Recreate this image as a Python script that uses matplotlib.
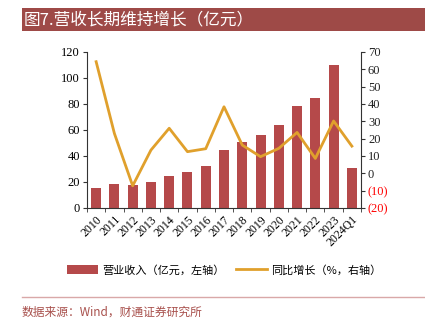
import matplotlib
matplotlib.use("Agg")
import matplotlib.pyplot as plt
from matplotlib.patches import Rectangle
from matplotlib.lines import Line2D
import numpy as np

categories = ["2010", "2011", "2012", "2013", "2014", "2015", "2016", "2017",
              "2018", "2019", "2020", "2021", "2022", "2023", "2024Q1"]
revenue = [15.4, 18.5, 17.7, 19.7, 24.9, 27.9, 32.0, 44.3, 50.5, 55.9, 63.6, 78.5, 85.0, 110.0, 30.5]
growth = [64.4, 23.0, -7.2, 13.4, 26.0, 12.5, 14.2, 38.4, 16.3, 9.6, 14.4, 23.6, 8.6, 30.2, 15.7]
left_ticks = [0, 20, 40, 60, 80, 100, 120]
right_ticks = [-20, -10, 0, 10, 20, 30, 40, 50, 60, 70]
right_labels = ["(20)", "(10)", "0", "10", "20", "30", "40", "50", "60", "70"]

title = "图7.营收长期维持增长（亿元）"
bar_label = "营业收入（亿元，左轴）"
line_label = "同比增长（%，右轴）"
source = "数据来源：Wind，财通证券研究所"

BAR = "#b5494a"
LINE = "#e0a02c"
TITLE_BG = "#9e4a47"
cjk = ["Noto Sans CJK SC", "DejaVu Sans"]
serif = ["Liberation Serif", "DejaVu Serif"]

W, H = 425, 332
fig = plt.figure(figsize=(W / 100, H / 100), dpi=100)

# title bar
fig.patches.append(Rectangle((22 / W, 1 - 31 / H), (W - 22) / W, 23 / H,
                             transform=fig.transFigure, facecolor=TITLE_BG,
                             edgecolor="none"))
fig.text(24 / W, 1 - 19.5 / H, title, color="white", fontsize=12,
         family=cjk, va="center", ha="left")

ax = fig.add_axes([87 / W, 1 - 208 / H, (361 - 87) / W, (208 - 52) / H])
x = np.arange(len(categories))
ax.bar(x, revenue, width=0.55, color=BAR, zorder=2)
ax.set_xlim(-0.5, len(categories) - 0.5)
ax.set_ylim(0, 120)
ax.set_yticks(left_ticks)
ax.set_yticklabels([str(t) for t in left_ticks], family=serif, fontsize=9)
ax.set_xticks(x)
ax.set_xticklabels(categories, rotation=45, ha="right", rotation_mode="anchor",
                   family=serif, fontsize=8.5)
ax.set_xticks(np.arange(-0.5, len(categories), 1), minor=True)
ax.tick_params(axis="x", which="major", length=0, pad=4)
ax.tick_params(axis="x", which="minor", length=3, direction="out", color="#333333")
ax.tick_params(axis="y", length=3, direction="out", color="#333333", pad=2)
for s in ["top", "right"]:
    ax.spines[s].set_visible(False)
ax.spines["left"].set_color("#333333")
ax.spines["bottom"].set_color("#333333")

ax2 = ax.twinx()
ax2.plot(x, growth, color=LINE, linewidth=2, zorder=3)
ax2.set_ylim(-20, 70)
ax2.set_yticks(right_ticks)
ax2.set_yticklabels(right_labels, family=serif, fontsize=9)
for t, v in zip(ax2.get_yticklabels(), right_ticks):
    t.set_color("red" if v < 0 else "#222222")
ax2.tick_params(axis="y", length=3, direction="out", color="#333333", pad=2)
for s in ["top", "left", "bottom"]:
    ax2.spines[s].set_visible(False)
ax2.spines["right"].set_color("#333333")

# legend
handles = [Rectangle((0, 0), 1, 1, facecolor=BAR, edgecolor="none"),
           Line2D([0], [0], color=LINE, linewidth=2)]
leg = fig.legend(handles, [bar_label, line_label], loc="center",
                 bbox_to_anchor=(224 / W, 1 - 270 / H), ncol=2, frameon=False,
                 prop={"family": cjk, "size": 8}, handlelength=2.8,
                 handleheight=0.9, columnspacing=1.0, handletextpad=0.4)

# separator line
fig.add_artist(Line2D([22 / W, 1.0], [1 - 297 / H, 1 - 297 / H],
                      transform=fig.transFigure, color="#d9a8a8", linewidth=1))
fig.text(22 / W, 1 - 312 / H, source, color="#a8504c", fontsize=8.5,
         family=cjk, va="center", ha="left")

fig.savefig("out.png", dpi=100)
